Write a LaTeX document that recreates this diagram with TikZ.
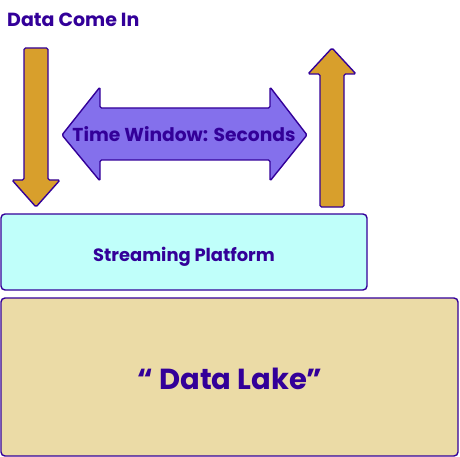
\documentclass[tikz,border=0pt]{standalone}
\usepackage{fontspec}
\setmainfont{Poppins}
\definecolor{ink}{HTML}{330099}
\definecolor{gold}{HTML}{D89F2C}
\definecolor{violet}{HTML}{8470EC}
\definecolor{cyanbox}{HTML}{C0FFFA}
\definecolor{lake}{HTML}{EBDBA6}
\tikzset{
  arrowshape/.style={draw=ink, line width=1.4pt, line join=round, rounded corners=1.5pt},
  boxshape/.style={draw=ink, line width=1.4pt, rounded corners=4pt},
  label/.style={text=ink, font=\bfseries, inner sep=0pt}
}
\begin{document}
\begin{tikzpicture}[x=1pt,y=-1pt]
\useasboundingbox (0,0) rectangle (460,457);
% down arrow
\draw[arrowshape, fill=gold] (24,48) -- (48,48) -- (48,180) -- (60,180) -- (36,207) -- (12,180) -- (24,180) -- cycle;
% up arrow
\draw[arrowshape, fill=gold] (320,207) -- (344,207) -- (344,74) -- (356,74) -- (332,48) -- (308,74) -- (320,74) -- cycle;
% double arrow
\draw[arrowshape, fill=violet] (62,135) -- (100,87) -- (100,108) -- (270,108) -- (270,87) -- (307,135) -- (270,181) -- (270,160) -- (100,160) -- (100,181) -- cycle;
\node[label, anchor=base, font=\bfseries\fontsize{18.7}{22}\selectfont] (tw) at (184,142) {Time Window: Seconds};
% title
\node[label, anchor=base west, font=\bfseries\fontsize{19}{22}\selectfont] (dci) at (7,27) {Data Come In};
% boxes
\draw[boxshape, fill=cyanbox] (1,214) rectangle (367,290);
\node[label, anchor=base, font=\bfseries\fontsize{17.9}{21}\selectfont] (sp) at (184,261) {Streaming Platform};
\draw[boxshape, fill=lake] (1,298) rectangle (458,456);
\node[label, anchor=base, font=\bfseries\fontsize{29}{34}\selectfont] (dl) at (230,389) {“ Data Lake”};
\end{tikzpicture}
\end{document}
